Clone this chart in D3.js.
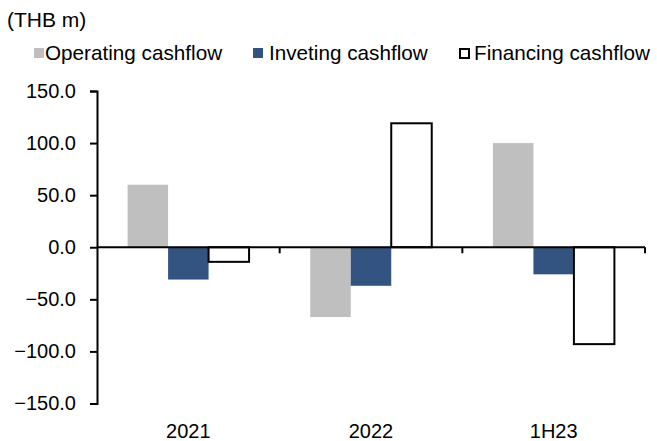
<!DOCTYPE html>
<html>
<head>
<meta charset="utf-8">
<script src="https://cdn.jsdelivr.net/npm/d3@7"></script>
<style>
  body { margin: 0; background: #fff; }
  text { font-family: Arial, "Liberation Sans", sans-serif; fill: #000; }
</style>
</head>
<body>
<svg id="chart"></svg>
<script>
// data
var categories = ["2021", "2022", "1H23"];
var seriesNames = ["Operating cashflow", "Inveting cashflow", "Financing cashflow"];
var operating = [60, -67, 100];
var investing = [-31, -37, -26];
var financing = [-14, 119, -93];
var yTicks = [-150, -100, -50, 0, 50, 100, 150];

var seriesValues = [operating, investing, financing];
var fills = ["#bfbfbf", "#335381", "#ffffff"];
var strokes = ["none", "none", "#000"];

var width = 657, height = 441;
var margin = { left: 97, top: 91, right: 12, bottom: 37.5 };
var plotW = width - margin.left - margin.right,
    plotH = height - margin.top - margin.bottom;

var svg = d3.select('#chart')
    .attr('width', width)
    .attr('height', height);

// y scale
var y = d3.scaleLinear()
    .domain([-150, 150])
    .range([plotH, 0]);

// category bands
var x0 = d3.scaleBand()
    .domain(categories)
    .range([0, plotW])
    .paddingInner(0.335)
    .paddingOuter(0.1675);

var x1 = d3.scaleBand()
    .domain(d3.range(seriesNames.length))
    .range([0, x0.bandwidth()]);

var g = svg.append('g')
    .attr('transform', 'translate(' + margin.left + ',' + margin.top + ')');

// bars
var rows = categories.map(function(c, i) {
    return seriesValues.map(function(vals, s) {
        return { cat: c, s: s, value: vals[i] };
    });
});

g.selectAll('.group')
    .data(rows)
    .enter().append('g')
    .attr('class', 'group')
    .attr('transform', function(d) { return 'translate(' + x0(d[0].cat) + ',0)'; })
    .selectAll('rect')
    .data(function(d) { return d; })
    .enter().append('rect')
    .attr('x', function(d) { return x1(d.s); })
    .attr('y', function(d) { return y(Math.max(0, d.value)); })
    .attr('width', x1.bandwidth())
    .attr('height', function(d) { return Math.abs(y(d.value) - y(0)); })
    .attr('fill', function(d) { return fills[d.s]; })
    .attr('stroke', function(d) { return strokes[d.s]; })
    .attr('stroke-width', 2);

// zero line with category boundary ticks
g.append('line')
    .attr('x1', 0).attr('x2', plotW)
    .attr('y1', y(0)).attr('y2', y(0))
    .attr('stroke', '#000').attr('stroke-width', 2);

var step = x0.step();
g.selectAll('.cat-tick')
    .data(categories)
    .enter().append('line')
    .attr('class', 'cat-tick')
    .attr('x1', function(d) { return x0(d) - x0.paddingInner() * step / 2 + step; })
    .attr('x2', function(d) { return x0(d) - x0.paddingInner() * step / 2 + step; })
    .attr('y1', y(0)).attr('y2', y(0) + 6)
    .attr('stroke', '#000').attr('stroke-width', 2);

// y axis
var yAxis = g.append('g')
    .call(d3.axisLeft(y).tickValues(yTicks).tickSize(7).tickPadding(14)
        .tickFormat(d3.format('.1f')));
yAxis.selectAll('path, line').attr('stroke', '#000').attr('stroke-width', 2);
yAxis.selectAll('text').style('font-size', '20px').attr('fill', '#000');

// category labels at bottom
var xAxis = g.append('g')
    .attr('transform', 'translate(0,' + plotH + ')')
    .call(d3.axisBottom(x0).tickSize(0).tickPadding(20));
xAxis.select('.domain').remove();
xAxis.selectAll('text').style('font-size', '20px').attr('fill', '#000');

// unit label
svg.append('text')
    .attr('x', 7).attr('y', 27)
    .style('font-size', '21px')
    .text('(THB m)');

// legend
var legendX = [34, 253, 459];
var legend = svg.selectAll('.legend')
    .data(seriesNames)
    .enter().append('g')
    .attr('class', 'legend')
    .attr('transform', function(d, i) { return 'translate(' + legendX[i] + ',48)'; });

legend.append('rect')
    .attr('x', function(d, i) { return i == 2 ? 1 : 0; })
    .attr('y', function(d, i) { return i == 2 ? 1 : 0; })
    .attr('width', function(d, i) { return i == 2 ? 9 : 10; })
    .attr('height', function(d, i) { return i == 2 ? 9 : 10; })
    .attr('fill', function(d, i) { return fills[i]; })
    .attr('stroke', function(d, i) { return strokes[i]; })
    .attr('stroke-width', 2);

legend.append('text')
    .attr('x', function(d, i) { return i == 2 ? 15 : (i == 1 ? 16 : 11); })
    .attr('y', 12)
    .style('font-size', '20.7px')
    .text(function(d) { return d; });
</script>
</body>
</html>
